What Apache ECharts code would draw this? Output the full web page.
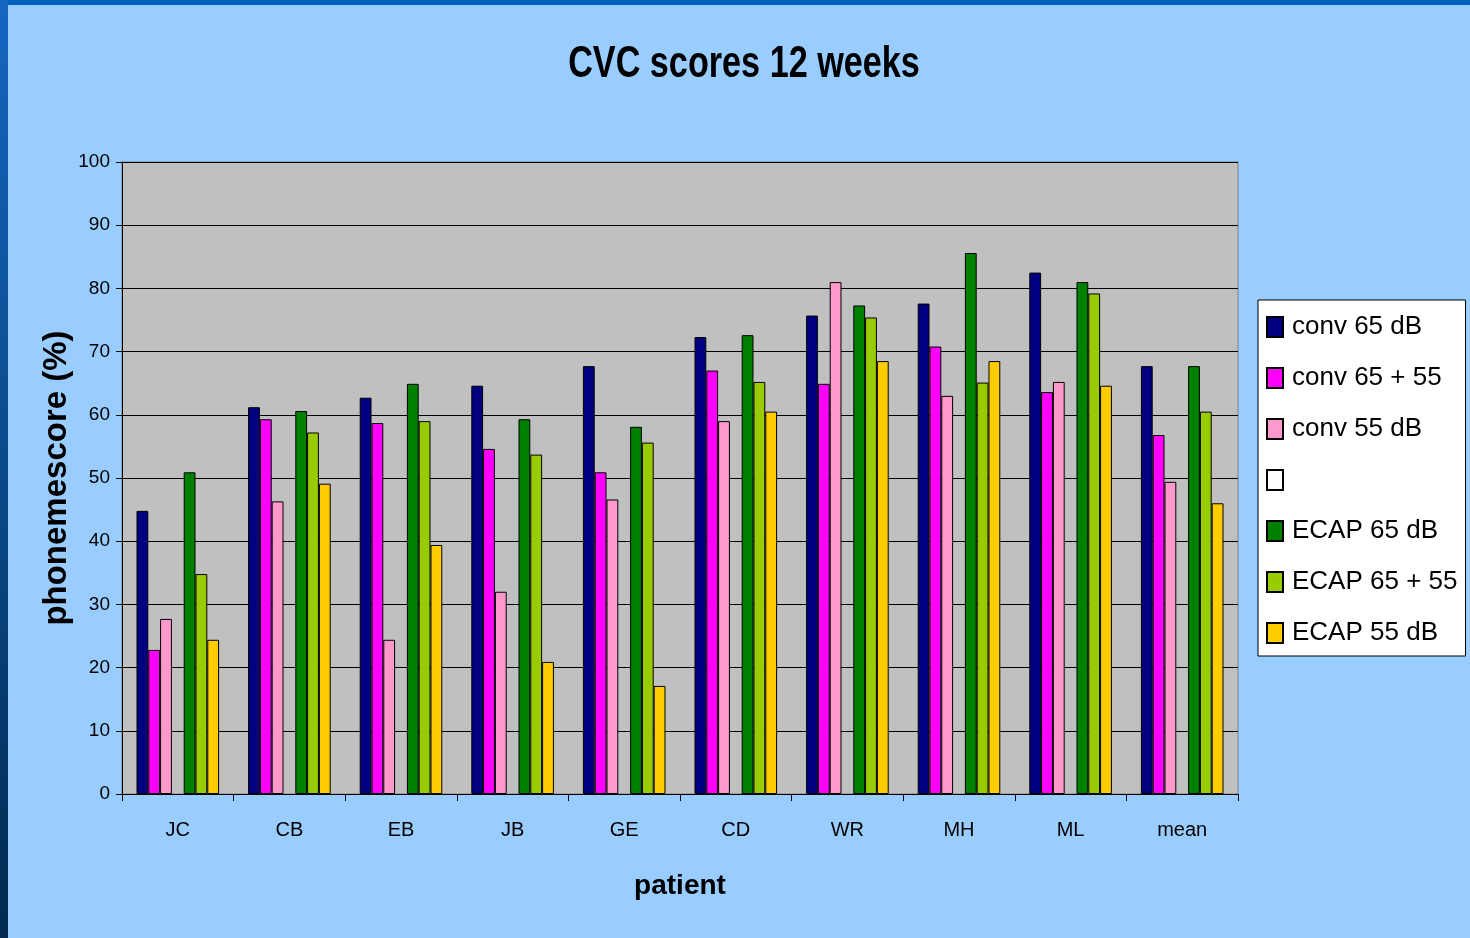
<!DOCTYPE html>
<html>
<head>
<meta charset="utf-8">
<script src="https://cdn.jsdelivr.net/npm/echarts@6/dist/echarts.min.js"></script>
<style>
html,body{margin:0;padding:0;background:#99CCFF;}
#c{width:1470px;height:938px;}
</style>
</head>
<body>
<div id="c"></div>
<script>
const categories = ['JC','CB','EB','JB','GE','CD','WR','MH','ML','mean'];
const conv65    = [44.8, 61.2, 62.7, 64.6, 67.7, 72.3, 75.7, 77.6, 82.5, 67.7];
const conv6555  = [22.8, 59.3, 58.7, 54.6, 50.9, 67.0, 64.9, 70.8, 63.6, 56.8];
const conv55    = [27.7, 46.3, 24.4, 32.0, 46.6, 59.0, 81.0, 63.0, 65.2, 49.4];
const emptySer  = [null, null, null, null, null, null, null, null, null, null];
const ecap65    = [50.9, 60.6, 64.9, 59.3, 58.1, 72.6, 77.3, 85.6, 81.0, 67.7];
const ecap6555  = [34.8, 57.2, 59.0, 53.7, 55.6, 65.2, 75.4, 65.1, 79.2, 60.5];
const ecap55    = [24.4, 49.1, 39.4, 20.9, 17.1, 60.5, 68.5, 68.5, 64.6, 46.0];
const yTicks = [0,10,20,30,40,50,60,70,80,90,100];
const titleText = 'CVC scores 12 weeks';

const seriesNames = ['conv 65 dB','conv 65 + 55','conv 55 dB','\u00a0','ECAP 65 dB','ECAP 65 + 55','ECAP 55 dB'];
const seriesData = [conv65, conv6555, conv55, emptySer, ecap65, ecap6555, ecap55];
const seriesColors = ['#000080','#FF00FF','#FF99CC','#FFFFFF','#008000','#99CC00','#FFCC00'];

const FONT = "'Liberation Sans',Arial,sans-serif";

const chart = echarts.init(document.getElementById('c'), null, {renderer:'canvas'});
chart.setOption({
  animation:false,
  backgroundColor:'#99CCFF',
  graphic:[
    {type:'rect', shape:{x:0,y:0,width:1470,height:5}, style:{fill:'#0060C0'}, silent:true, z:-1},
    {type:'rect', shape:{x:0,y:0,width:8,height:938},
     style:{fill:new echarts.graphic.LinearGradient(0,0,0,1,[{offset:0,color:'#1565c0'},{offset:0.5,color:'#0a4a8a'},{offset:1,color:'#022a50'}])}, silent:true, z:-1},
    {type:'text', x:744, y:42, scaleX:0.76, silent:true,
     style:{text:titleText, font:"bold 45px 'Liberation Sans', Arial, sans-serif", fill:'#000', textAlign:'center', textVerticalAlign:'top'}}
  ],
  legend:{
    orient:'vertical',
    left:1258, top:300,
    backgroundColor:'#FFFFFF',
    borderColor:'#000', borderWidth:1,
    padding:[12,8,8,8],
    itemGap:21,
    itemWidth:16, itemHeight:20,
    icon:'rect',
    selectedMode:false,
    data:seriesNames,
    textStyle:{fontFamily:FONT, fontSize:26, color:'#000', lineHeight:30, padding:[0,0,0,4]}
  },
  grid:{
    left:122, top:162, width:1116, height:632,
    show:true, backgroundColor:'#C0C0C0', borderColor:'#808080', borderWidth:1
  },
  xAxis:{
    type:'category',
    data:categories,
    name:'patient',
    nameLocation:'middle',
    nameGap:78,
    nameTextStyle:{fontFamily:FONT, fontSize:28, fontWeight:'bold', color:'#000'},
    axisLine:{lineStyle:{color:'#000', width:1}},
    axisTick:{show:true, interval:0, length:7, lineStyle:{color:'#000'}},
    axisLabel:{interval:0, margin:26, fontFamily:FONT, fontSize:20, color:'#000'}
  },
  yAxis:{
    type:'value',
    min:0, max:100, interval:10,
    name:'phonemescore (%)',
    nameLocation:'middle',
    nameGap:49,
    nameMoveOverlap:false,
    nameRotate:90,
    nameTextStyle:{fontFamily:FONT, fontSize:33, fontWeight:'bold', color:'#000'},
    axisLine:{show:true, lineStyle:{color:'#000', width:1}},
    axisTick:{show:true, length:6, lineStyle:{color:'#000'}},
    axisLabel:{margin:12, fontFamily:FONT, fontSize:19, color:'#000',
      formatter:function(v){return yTicks.indexOf(v)>=0 ? String(v) : '';}},
    splitLine:{show:true, lineStyle:{color:'#000', width:1}}
  },
  series: seriesNames.map(function(n,i){
    return {
      name:n, type:'bar',
      data:seriesData[i],
      barGap:'0%',
      barCategoryGap:'26%',
      itemStyle:{color:seriesColors[i], borderColor:'#000', borderWidth:1},
      emphasis:{disabled:true}
    };
  })
});
</script>
</body>
</html>
